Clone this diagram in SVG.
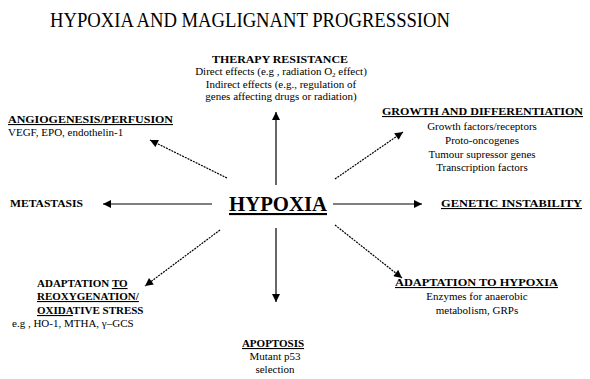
<svg xmlns="http://www.w3.org/2000/svg" width="590" height="379" viewBox="0 0 590 379" font-family="'Liberation Serif', 'Times New Roman', 'DejaVu Serif', serif">
<style>
text{font-family:'Liberation Serif','Times New Roman','DejaVu Serif',serif;fill:#000}
.t{font-size:20px}
.h{font-size:11px;font-weight:bold}
.b{font-size:11px}
.u{text-decoration:underline}
.c{text-anchor:middle}
.ln{stroke:#000;stroke-width:1.2;fill:none}
.d{stroke-dasharray:2 1}
</style>
<defs>
<marker id="ah" viewBox="0 0 10 10" refX="10" refY="5" markerWidth="9" markerHeight="8" markerUnits="userSpaceOnUse" orient="auto">
<path d="M0,0 L10,5 L0,10 Z" fill="#000"/>
</marker>
</defs>
<rect width="590" height="379" fill="#fff"/>
<text class="t" x="250" y="27" text-anchor="middle" textLength="400" lengthAdjust="spacingAndGlyphs">HYPOXIA AND MAGLIGNANT PROGRESSSION</text>

<g id="connectors">
<line class="ln" x1="276" y1="185" x2="276" y2="112" marker-end="url(#ah)"/>
<line class="ln" x1="276" y1="228" x2="276" y2="302" marker-end="url(#ah)"/>
<line class="ln" x1="212" y1="204" x2="103" y2="204" marker-end="url(#ah)"/>
<line class="ln" x1="333" y1="204" x2="422" y2="204" marker-end="url(#ah)"/>
<line class="ln d" x1="227" y1="178" x2="150" y2="140" marker-end="url(#ah)"/>
<line class="ln d" x1="335" y1="179" x2="403" y2="132" marker-end="url(#ah)"/>
<line class="ln d" x1="220" y1="230" x2="145" y2="286" marker-end="url(#ah)"/>
<line class="ln d" x1="335" y1="225" x2="402" y2="278" marker-end="url(#ah)"/>
</g>

<g id="hypoxia">
<text x="278" y="211" class="c u" style="font-size:21px;font-weight:bold" textLength="98" lengthAdjust="spacingAndGlyphs">HYPOXIA</text>
</g>

<g id="therapy">
<text class="h c" x="280" y="63" textLength="136" lengthAdjust="spacingAndGlyphs">THERAPY RESISTANCE</text>
<text class="b c" x="281" y="75">Direct effects (e.g , radiation O<tspan font-size="7" dy="2">2</tspan><tspan dy="-2"> effect)</tspan></text>
<text class="b c" x="281" y="88">Indirect effects (e.g., regulation of</text>
<text class="b c" x="281" y="100">genes affecting drugs or radiation)</text>
</g>

<g id="angiogenesis">
<text class="h u" x="8" y="123" textLength="165" lengthAdjust="spacingAndGlyphs">ANGIOGENESIS/PERFUSION</text>
<text class="b" x="8" y="136">VEGF, EPO, endothelin-1</text>
</g>

<g id="growth">
<text class="h u" x="382" y="115" textLength="201" lengthAdjust="spacingAndGlyphs">GROWTH AND DIFFERENTIATION</text>
<text class="b c" x="482" y="130">Growth factors/receptors</text>
<text class="b c" x="482" y="144">Proto-oncogenes</text>
<text class="b c" x="482" y="158">Tumour supressor genes</text>
<text class="b c" x="482" y="171">Transcription factors</text>
</g>

<g id="metastasis">
<text class="h" x="10" y="207" textLength="73" lengthAdjust="spacingAndGlyphs">METASTASIS</text>
</g>

<g id="genetic">
<text class="h u" x="441" y="207" textLength="141" lengthAdjust="spacingAndGlyphs">GENETIC INSTABILITY</text>
</g>

<g id="reoxygenation">
<text class="h" x="37" y="287">ADAPTATION <tspan class="u">TO</tspan></text>
<text class="h u" x="37" y="300">REOXYGENATION/</text>
<text class="h" x="37" y="314"><tspan class="u">OXIDA</tspan>TIVE STRESS</text>
<text class="b" x="12" y="327">e.g , HO-1, MTHA, γ–GCS</text>
</g>

<g id="adaptation-hypoxia">
<text class="h u" x="395" y="286" textLength="163" lengthAdjust="spacingAndGlyphs">ADAPTATION TO HYPOXIA</text>
<text class="b c" x="477" y="300">Enzymes for anaerobic</text>
<text class="b c" x="477" y="314">metabolism, GRPs</text>
</g>

<g id="apoptosis">
<text class="h c u" x="273" y="347">APOPTOSIS</text>
<text class="b c" x="275" y="360">Mutant p53</text>
<text class="b c" x="275" y="373">selection</text>
</g>
</svg>
